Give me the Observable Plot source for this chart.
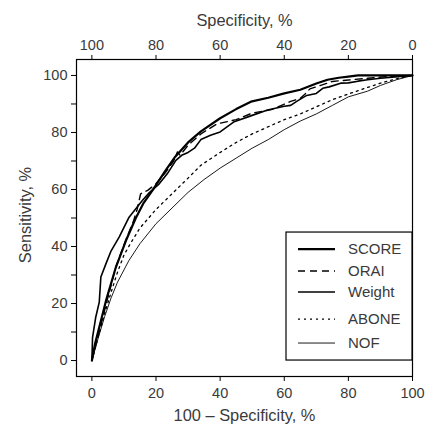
<!DOCTYPE html>
<html>
<head>
<meta charset="utf-8">
<script src="https://cdn.jsdelivr.net/npm/d3@7"></script>
<script src="https://cdn.jsdelivr.net/npm/@observablehq/plot@0.6"></script>
<style>
  html, body { margin: 0; padding: 0; background: white; }
</style>
</head>
<body>
<div id="chart"></div>
<script>
// Series names (legend order)
const seriesNames = ["SCORE", "ORAI", "Weight", "ABONE", "NOF"];

// 100 – Specificity (%) and Sensitivity (%) for each series
const scoreX = [0, 1, 2.3, 4.4, 7.5, 10.6, 13.7, 16, 18.9, 23, 26, 30, 34, 40, 45, 49.6, 55, 60, 65, 70, 73.5, 77, 80, 83, 90, 100];
const scoreY = [0, 6, 11.7, 21, 32.8, 42, 50, 55, 59.7, 66.7, 71.5, 76.5, 80.4, 85, 88.2, 90.8, 92.2, 93.7, 95, 97.2, 98.5, 99.2, 99.6, 100, 100, 100];

const oraiX = [0, 2.5, 4.5, 7.5, 10.5, 13, 14.1, 15.2, 17.4, 20, 23, 25.5, 26.7, 27.5, 30, 34, 39, 45, 50, 56, 62, 65, 66.5, 68, 70, 75, 80, 86, 92, 100];
const oraiY = [0, 11, 20, 33, 42, 49, 53, 58.5, 59.7, 62, 66, 70, 73.2, 72, 75.5, 79.5, 83, 84.5, 86.8, 88, 90.9, 92, 93.5, 95.3, 96, 97.9, 98.4, 99, 99.6, 100];

const weightX = [0, 0.2, 1.2, 2.3, 2.8, 4.4, 6, 8.5, 11.6, 15.8, 18, 21, 23.5, 26.2, 28, 30, 32, 34, 37, 40, 44.4, 50, 54.8, 60, 62, 64, 67, 70, 72, 74, 77.6, 80, 83, 86, 90, 100];
const weightY = [0, 8, 15.2, 20.5, 29.3, 34, 38.5, 43.3, 50.3, 56.2, 59, 62, 65.5, 70.2, 72, 73, 74.5, 77.5, 79, 80.2, 83.8, 86, 87.9, 89.2, 89.5, 91, 93, 93.7, 95.5, 96, 97.3, 97.4, 98, 98.5, 99, 100];

const aboneX = [0, 2, 4, 6, 8, 10, 12, 15, 20, 25, 30, 34, 40, 45, 50, 55, 60, 65, 70, 75, 80, 86, 90, 95, 100];
const aboneY = [0, 8.5, 16.5, 24, 31, 37, 41, 46.5, 53, 58.5, 64, 68.5, 73, 76.5, 79.5, 82, 84.5, 86.5, 89, 91.5, 93.5, 95.8, 97.3, 98.8, 100];

const nofX = [0, 2, 4, 6, 8, 11.5, 15, 20, 25, 30, 35, 40, 45, 50, 55, 60, 65, 70, 75, 80, 86, 90, 95, 100];
const nofY = [0, 8, 15.5, 22, 27.5, 35, 41, 48, 53.5, 59, 63.5, 67.5, 71, 74.5, 77.5, 81, 84, 86.5, 89.5, 92.5, 94.5, 96.5, 98.5, 100];

// Axis ticks
const xTicks = [0, 20, 40, 60, 80, 100];
const yTicks = [0, 10, 20, 30, 40, 50, 60, 70, 80, 90, 100];

(function () {
  // Line styles per series
  const styles = {
    SCORE:  {strokeWidth: 2.2, dash: null},
    ORAI:   {strokeWidth: 1.4, dash: "7,5"},
    Weight: {strokeWidth: 1.6, dash: null},
    ABONE:  {strokeWidth: 1.3, dash: "2,4"},
    NOF:    {strokeWidth: 0.9, dash: null}
  };

  const seriesData = {
    SCORE: scoreX.map((x, i) => ({x, y: scoreY[i]})),
    ORAI: oraiX.map((x, i) => ({x, y: oraiY[i]})),
    Weight: weightX.map((x, i) => ({x, y: weightY[i]})),
    ABONE: aboneX.map((x, i) => ({x, y: aboneY[i]})),
    NOF: nofX.map((x, i) => ({x, y: nofY[i]}))
  };

  const FONT = "'Liberation Sans', Arial, sans-serif";
  const TEXT = "#3a3a3a";

  const lineMarks = seriesNames.map(name => Plot.line(seriesData[name], {
    x: "x", y: "y",
    stroke: "black",
    strokeWidth: styles[name].strokeWidth,
    strokeDasharray: styles[name].dash,
    strokeLinejoin: "round"
  }));

  const svg = Plot.plot({
    width: 434,
    height: 425,
    marginTop: 59,
    marginBottom: 49,
    marginLeft: 76,
    marginRight: 22,
    style: {fontFamily: FONT, fontSize: "14.5px", background: "white", color: "black"},
    x: {domain: [-4.8, 100]},
    y: {domain: [-5.6, 105.6]},
    marks: [
      ...lineMarks,
      Plot.axisX({anchor: "bottom", ticks: xTicks, tickSize: 5, tickPadding: 6, label: null, fill: TEXT, stroke: "black", fontSize: 14.5}),
      Plot.axisX({anchor: "top", ticks: xTicks, tickSize: 5, tickPadding: 5, tickFormat: d => String(100 - d), label: null, fill: TEXT, stroke: "black", fontSize: 14.5}),
      Plot.axisY({anchor: "left", ticks: yTicks, tickSize: 5, tickPadding: 4, tickFormat: d => (d % 20 === 0 ? String(d) : ""), label: null, fill: TEXT, stroke: "black", fontSize: 14.5}),
      Plot.frame({stroke: "black", strokeWidth: 1.2}),
      Plot.text(["Specificity, %"], {frameAnchor: "top", dy: -39, text: d => d, fill: TEXT, lineAnchor: "middle", fontSize: 16.4}),
      Plot.text(["100 \u2013 Specificity, %"], {frameAnchor: "bottom", dy: 39, text: d => d, fill: TEXT, lineAnchor: "middle", fontSize: 16.4}),
      Plot.text(["Sensitivity, %"], {frameAnchor: "left", dx: -51, dy: -3, rotate: -90, textAnchor: "middle", text: d => d, fill: TEXT, lineAnchor: "middle", fontSize: 16.4})
    ]
  });

  // Legend inside the plot, anchored at the bottom-right corner of the data area
  const xs = svg.scale("x"), ys = svg.scale("y");
  const boxRight = xs.apply(100), boxBottom = ys.apply(0);
  const boxW = 126, boxH = 128;
  const boxLeft = boxRight - boxW, boxTop = boxBottom - boxH;
  const rowOffsets = [17, 39, 60, 87, 111];
  const g = d3.select(svg).append("g").attr("class", "legend");
  g.append("rect").attr("x", boxLeft).attr("y", boxTop).attr("width", boxW).attr("height", boxH)
    .attr("fill", "white").attr("stroke", "black").attr("stroke-width", 1.2);
  seriesNames.forEach((name, i) => {
    const yy = boxTop + rowOffsets[i];
    const ln = g.append("line").attr("x1", boxLeft + 12).attr("x2", boxLeft + 49).attr("y1", yy).attr("y2", yy)
      .attr("stroke", "black").attr("stroke-width", styles[name].strokeWidth);
    if (styles[name].dash) ln.attr("stroke-dasharray", styles[name].dash);
    g.append("text").attr("x", boxLeft + 62).attr("y", yy).attr("dy", "0.35em")
      .attr("text-anchor", "start")
      .attr("fill", TEXT).attr("font-family", FONT).attr("font-size", 15).text(name);
  });

  document.getElementById("chart").appendChild(svg);
})();
</script>
</body>
</html>
